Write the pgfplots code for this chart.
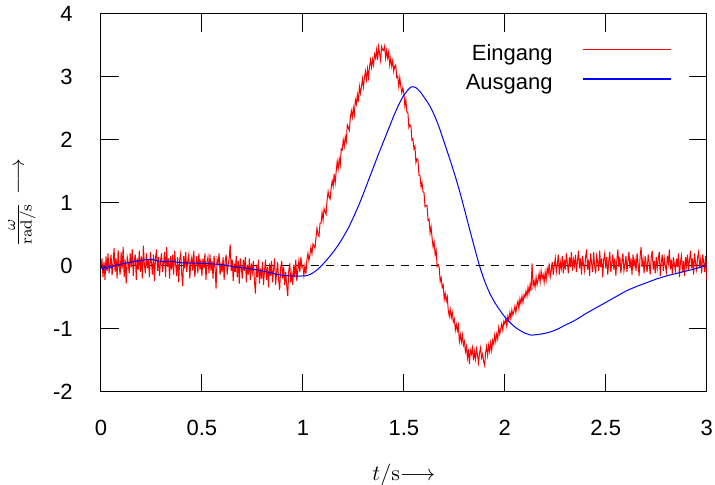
\documentclass[border=0pt]{standalone}
\usepackage[no-math]{fontspec}
\setmainfont{Liberation Sans}
\usepackage{pgfplots}
\pgfplotsset{compat=1.18}

\begin{document}
\begin{tikzpicture}[font=\fontsize{11}{13}\selectfont]
\begin{axis}[
  scale only axis, width=303pt, height=189pt,
  xmin=0, xmax=3, ymin=-2, ymax=4,
  xtick={0,0.5,...,3}, ytick={-2,-1,...,4},
  xtick pos=both, ytick pos=both, tick align=inside,
  major tick length=9pt,
  axis line style={line width=0.5pt},
  every tick/.style={black, line width=0.5pt},
  /pgf/number format/assume math mode=true,
  ticklabel style={font=\fontsize{11}{13}\selectfont, inner sep=0pt},
  xticklabel style={yshift=-14pt},
  yticklabel style={xshift=-14pt},
  xlabel={$t/\mathrm{s}{\longrightarrow}$},
  ylabel={$\frac{\omega}{\mathrm{rad/s}}$\hspace{4pt}$\longrightarrow$},
  xlabel style={at={(axis description cs:0.5,-0.2354)}, anchor=base, inner sep=0pt},
  ylabel style={at={(axis description cs:-0.1304,0.5)}, anchor=center, inner sep=0pt},
  legend plot pos=right, legend cell align=right,
  legend style={draw=none, fill=none, inner sep=0pt, at={(1,1)}, anchor=north east,
    xshift=-17.9pt, yshift=-15pt, row sep=5.6pt, column sep=15pt,
    nodes={inner sep=0pt}, font=\fontsize{11}{13}\selectfont},
]
% zero line
\addplot[black, line width=0.5pt, dash pattern=on 4pt off 3.5pt, forget plot] coordinates {(0,0) (3,0)};

% Eingang, samples every 0.005 s
\addplot[red, line width=0.5pt,
  legend image code/.code={\node[inner sep=0pt, anchor=west] at (0pt,1.5pt) {\textcolor{red}{\rule{44pt}{0.8pt}}};}]
  table[row sep=\\, header=false, x expr=\coordindex*0.005, y index=0] {
-0.05\\0.12\\-0.18\\0.06\\-0.22\\0.15\\-0.08\\0.20\\-0.12\\0.02\\
0.18\\-0.15\\0.05\\0.28\\-0.10\\0.12\\-0.20\\0.25\\0.00\\-0.14\\
0.22\\-0.05\\0.30\\-0.18\\0.10\\-0.28\\0.14\\0.05\\-0.12\\0.20\\
-0.02\\0.26\\-0.16\\0.08\\0.18\\-0.22\\0.12\\-0.06\\0.24\\-0.10\\
0.15\\-0.20\\0.32\\0.02\\-0.12\\0.20\\-0.04\\0.10\\-0.18\\0.22\\
0.05\\-0.14\\0.18\\-0.24\\0.12\\0.26\\-0.08\\0.14\\-0.16\\0.08\\
0.20\\-0.10\\0.04\\0.22\\-0.18\\0.30\\-0.02\\0.12\\-0.20\\0.16\\
-0.06\\0.18\\-0.14\\0.24\\0.02\\-0.16\\0.14\\-0.26\\0.10\\0.20\\
-0.12\\-0.32\\0.16\\-0.04\\0.22\\-0.10\\0.08\\0.18\\-0.20\\0.06\\
0.14\\-0.08\\0.24\\-0.18\\0.02\\0.16\\-0.12\\0.20\\-0.06\\0.10\\
-0.16\\0.12\\-0.04\\0.20\\-0.22\\0.06\\0.14\\-0.12\\0.18\\-0.08\\
0.08\\-0.20\\0.16\\-0.02\\-0.36\\0.10\\0.04\\0.20\\-0.14\\0.02\\
-0.10\\0.14\\-0.22\\0.06\\0.18\\-0.14\\0.02\\0.12\\0.34\\-0.08\\
0.10\\-0.24\\0.04\\-0.10\\0.16\\-0.18\\0.08\\-0.28\\0.12\\-0.02\\
-0.20\\0.10\\-0.08\\0.14\\-0.26\\0.02\\-0.14\\0.12\\-0.22\\0.04\\
-0.10\\0.08\\-0.24\\-0.44\\0.02\\-0.18\\0.10\\-0.28\\-0.04\\-0.20\\
0.06\\-0.30\\-0.08\\0.10\\-0.22\\-0.02\\-0.34\\0.04\\-0.16\\0.08\\
-0.26\\-0.06\\0.12\\-0.30\\-0.10\\0.06\\-0.22\\-0.38\\-0.04\\0.08\\
-0.20\\-0.02\\-0.30\\-0.10\\-0.32\\-0.48\\-0.08\\0.04\\-0.26\\-0.12\\
-0.30\\0.02\\-0.18\\0.10\\-0.24\\-0.06\\0.08\\-0.10\\0.14\\-0.02\\
0.00\\-0.15\\0.00\\-0.13\\0.10\\0.20\\0.08\\0.18\\0.30\\0.19\\
0.35\\0.32\\0.28\\0.45\\0.60\\0.50\\0.47\\0.68\\0.68\\0.85\\
0.72\\0.91\\0.86\\0.82\\1.05\\1.18\\1.09\\1.06\\1.24\\1.35\\
1.26\\1.46\\1.32\\1.50\\1.66\\1.54\\1.70\\1.60\\1.86\\1.84\\
2.00\\1.90\\2.05\\1.97\\2.24\\2.20\\2.15\\2.35\\2.46\\2.36\\
2.51\\2.40\\2.64\\2.57\\2.72\\2.60\\2.85\\2.74\\2.84\\2.97\\
2.84\\2.99\\3.09\\2.96\\3.13\\2.99\\3.16\\3.27\\3.15\\3.28\\
3.19\\3.36\\3.30\\3.43\\3.27\\3.48\\3.37\\3.26\\3.48\\3.43\\
3.42\\3.49\\3.30\\3.42\\3.30\\3.40\\3.19\\3.30\\3.17\\3.26\\
3.09\\3.17\\3.19\\2.99\\3.01\\2.85\\2.99\\2.85\\2.75\\2.83\\
2.74\\2.54\\2.64\\2.44\\2.44\\2.20\\2.24\\2.22\\2.00\\2.02\\
1.86\\1.90\\1.64\\1.70\\1.68\\1.44\\1.44\\1.26\\1.32\\1.18\\
1.16\\0.94\\0.96\\0.96\\0.72\\0.74\\0.52\\0.62\\0.44\\0.30\\
0.38\\0.18\\0.25\\-0.01\\0.02\\-0.02\\-0.25\\-0.19\\-0.34\\-0.30\\
-0.53\\-0.44\\-0.56\\-0.49\\-0.70\\-0.80\\-0.69\\-0.82\\-0.74\\-0.89\\
-0.84\\-1.02\\-0.93\\-1.03\\-0.94\\-1.20\\-1.09\\-1.21\\-1.10\\-1.26\\
-1.20\\-1.36\\-1.28\\-1.46\\-1.32\\-1.56\\-1.34\\-1.40\\-1.30\\-1.50\\
-1.36\\-1.48\\-1.32\\-1.42\\-1.54\\-1.38\\-1.30\\-1.46\\-1.40\\-1.52\\
-1.58\\-1.38\\-1.28\\-1.42\\-1.26\\-1.36\\-1.22\\-1.34\\-1.18\\-1.24\\
-1.10\\-1.20\\-1.08\\-1.16\\-0.98\\-1.08\\-1.00\\-0.92\\-1.02\\-0.88\\
-0.92\\-0.84\\-0.96\\-0.80\\-0.86\\-0.74\\-0.84\\-0.70\\-0.78\\-0.72\\
-0.64\\-0.74\\-0.62\\-0.56\\-0.68\\-0.52\\-0.60\\-0.48\\-0.58\\-0.46\\
-0.50\\-0.40\\-0.48\\-0.34\\-0.44\\-0.30\\-0.40\\0.04\\-0.32\\-0.24\\
-0.34\\-0.18\\-0.30\\-0.22\\-0.12\\-0.26\\-0.08\\-0.20\\-0.14\\-0.26\\
-0.10\\-0.22\\-0.04\\-0.12\\0.04\\-0.18\\-0.08\\0.06\\-0.14\\0.00\\
0.12\\-0.10\\0.02\\0.18\\-0.14\\0.06\\-0.04\\0.16\\-0.12\\0.10\\
-0.06\\0.20\\0.04\\-0.12\\0.14\\-0.02\\0.22\\-0.08\\0.10\\0.00\\
0.18\\-0.10\\0.08\\0.24\\-0.04\\0.12\\-0.14\\0.16\\0.02\\-0.08\\
0.14\\0.26\\-0.06\\0.10\\-0.16\\0.20\\0.04\\-0.10\\0.22\\0.00\\
-0.12\\0.16\\0.06\\-0.08\\0.24\\-0.02\\0.12\\-0.18\\0.10\\0.20\\
-0.04\\0.14\\-0.14\\0.08\\0.22\\-0.10\\0.04\\0.18\\-0.06\\0.12\\
-0.16\\0.10\\0.26\\-0.02\\0.14\\-0.12\\0.06\\0.20\\-0.08\\0.02\\
0.16\\-0.10\\0.08\\0.22\\-0.04\\0.12\\-0.14\\0.18\\0.00\\0.10\\
-0.08\\0.20\\0.04\\-0.16\\0.14\\0.30\\-0.02\\0.10\\-0.12\\0.16\\
0.02\\-0.10\\0.18\\0.06\\-0.14\\0.12\\0.24\\-0.06\\0.08\\-0.12\\
0.14\\-0.04\\0.10\\0.22\\-0.16\\0.06\\0.18\\-0.08\\0.12\\0.00\\
-0.10\\0.16\\0.04\\0.26\\-0.06\\0.10\\-0.14\\0.14\\0.02\\-0.08\\
0.12\\-0.02\\0.20\\-0.18\\0.06\\0.16\\-0.10\\0.08\\-0.16\\0.14\\
0.00\\0.18\\-0.08\\0.10\\0.24\\-0.04\\0.12\\-0.14\\0.20\\0.04\\
-0.06\\0.14\\0.22\\-0.02\\0.10\\-0.12\\0.18\\0.06\\-0.10\\0.16\\
-0.22\\
};
\addlegendentry{Eingang}

% Ausgang
\addplot[blue, line width=0.5pt, smooth,
  legend image code/.code={\node[inner sep=0pt, anchor=west] at (0pt,1.5pt) {\textcolor{blue}{\rule{44pt}{0.8pt}}};}]
  coordinates {
(0,0.02) (0.01,-0.06) (0.02,-0.01) (0.03,-0.05) (0.04,0.00) (0.05,-0.03)
(0.07,0.01) (0.10,0.03) (0.15,0.06) (0.20,0.09) (0.25,0.10) (0.30,0.07)
(0.35,0.07) (0.40,0.05) (0.50,0.04) (0.60,0.02) (0.65,-0.01) (0.70,-0.03)
(0.75,-0.05) (0.80,-0.08) (0.85,-0.12) (0.90,-0.15) (0.95,-0.16) (1.00,-0.16)
(1.025,-0.15) (1.05,-0.11) (1.075,-0.05) (1.10,0.03) (1.125,0.12) (1.15,0.22)
(1.175,0.33) (1.20,0.46) (1.225,0.60) (1.25,0.77) (1.275,0.95) (1.30,1.15)
(1.325,1.36) (1.35,1.57) (1.375,1.78) (1.40,1.98) (1.425,2.18) (1.45,2.38)
(1.475,2.56) (1.50,2.71) (1.525,2.81) (1.54,2.845) (1.56,2.83) (1.585,2.75)
(1.60,2.68) (1.625,2.56) (1.65,2.40) (1.675,2.20) (1.70,1.96) (1.725,1.72)
(1.75,1.47) (1.775,1.20) (1.80,0.90) (1.825,0.59) (1.85,0.29) (1.875,0.00)
(1.90,-0.24) (1.925,-0.43) (1.95,-0.58) (1.975,-0.70) (2.00,-0.81) (2.05,-0.97)
(2.10,-1.07) (2.13,-1.10) (2.20,-1.07) (2.25,-1.02) (2.30,-0.94) (2.35,-0.86)
(2.40,-0.76) (2.45,-0.67) (2.50,-0.58) (2.55,-0.49) (2.60,-0.40) (2.65,-0.33)
(2.70,-0.27) (2.75,-0.21) (2.80,-0.16) (2.85,-0.12) (2.90,-0.08) (2.95,-0.04)
(3.00,0.01)
};
\addlegendentry{Ausgang}
\end{axis}
\pgfresetboundingbox
\path[use as bounding box] (-50.5pt,-46.5pt) rectangle (307.15pt,196pt);
\end{tikzpicture}
\end{document}
